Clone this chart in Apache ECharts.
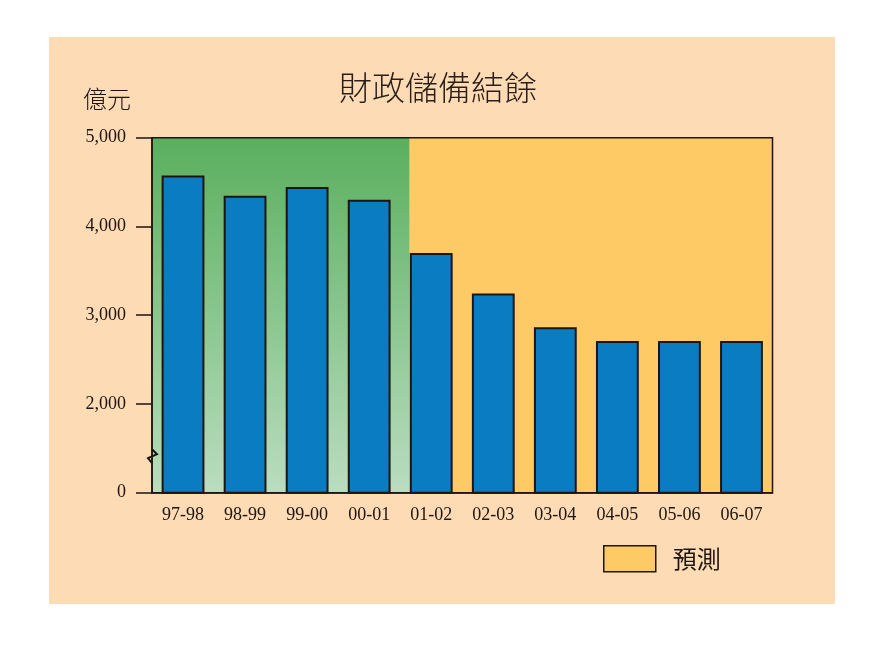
<!DOCTYPE html>
<html><head><meta charset="utf-8">
<script src="https://cdn.jsdelivr.net/npm/echarts@6/dist/echarts.min.js"></script>
<style>html,body{margin:0;padding:0;background:#fff}#c{width:886px;height:660px}</style>
</head><body><div id="c"></div>
<script>
var categories = ['97-98','98-99','99-00','00-01','01-02','02-03','03-04','04-05','05-06','06-07'];
var reserves = [4575, 4345, 4445, 4300, 3700, 3245, 2865, 2710, 2710, 2710];
var yTickValues = [1000, 2000, 3000, 4000, 5000];
var yTickLabels = ['0', '2,000', '3,000', '4,000', '5,000'];
var actualCount = 4;
var titleText = '財政儲備結餘';
var unitText = '億元';
var forecastName = '預測';

var chart = echarts.init(document.getElementById('c'));
var serif = '"Liberation Serif", "DejaVu Serif", serif';
var cjk = '"Noto Sans CJK TC", "Noto Sans CJK SC", sans-serif';
var ink = '#1e1410';

chart.setOption({
  animation: false,
  title: [
    {text: titleText, left: 339, top: 71, padding: 0, textStyle: {fontFamily: cjk, fontSize: 33, fontWeight: 300, color: '#2a1e18'}},
    {text: unitText, left: 83, top: 87, padding: 0, textStyle: {fontFamily: cjk, fontSize: 24, fontWeight: 300, color: ink}}
  ],
  legend: {
    left: 603, top: 545, padding: 0, itemWidth: 52, itemHeight: 26,
    data: [{name: forecastName, icon: 'rect', itemStyle: {color: '#FDCA66', borderColor: ink, borderWidth: 1.5}}],
    textStyle: {fontFamily: cjk, fontSize: 24, color: ink, padding: [0, 0, 0, 12]},
    selectedMode: false
  },
  grid: {left: 152, top: 137.7, right: 113.5, bottom: 167.3, show: true, borderColor: ink, borderWidth: 1.5, backgroundColor: 'transparent'},
  xAxis: {
    type: 'category', data: categories,
    axisLine: {lineStyle: {color: ink, width: 1.5}},
    axisTick: {show: false},
    axisLabel: {fontFamily: serif, fontSize: 18, color: ink, margin: 14}
  },
  yAxis: {
    type: 'value', min: 1000, max: 5000, interval: 1000,
    axisLine: {show: true, lineStyle: {color: ink, width: 1.5}},
    axisTick: {show: true, length: 16, lineStyle: {color: ink, width: 1.5}},
    splitLine: {show: false},
    axisLabel: {
      fontFamily: serif, fontSize: 18, color: ink, margin: 26,
      formatter: function (v) { var i = yTickValues.indexOf(v); return i >= 0 ? yTickLabels[i] : ''; }
    }
  },
  series: [
    {type: 'bar', data: reserves, barWidth: '69%', z: 3,
     itemStyle: {color: '#0A7DC2', borderColor: ink, borderWidth: 2}},
    {type: 'line', name: forecastName, data: []}
  ]
});

function px(cat, v) { return chart.convertToPixel({xAxisIndex: 0, yAxisIndex: 0}, [cat, v]); }
var p0 = px(categories[0], 5000), p1 = px(categories[1], 5000);
var band = p1[0] - p0[0];
var gx0 = p0[0] - band / 2;
var gxEnd = px(categories[categories.length - 1], 1000)[0] + band / 2;
var gyTop = p0[1];
var gyBot = px(categories[0], 1000)[1];
var greenEnd = px(categories[actualCount], 1000)[0] - band * 0.69 / 2 - 0.5;
var breakY = px(categories[0], 1400)[1];

chart.setOption({
  graphic: [
    {type: 'rect', z: -10, shape: {x: 49, y: 37, width: 786, height: 567}, style: {fill: '#FDDBB4'}},
    {type: 'rect', z: -5, shape: {x: gx0, y: gyTop, width: gxEnd - gx0, height: gyBot - gyTop}, style: {fill: '#FDCA66'}},
    {type: 'rect', z: -4, shape: {x: gx0, y: gyTop, width: greenEnd - gx0, height: gyBot - gyTop},
     style: {fill: new echarts.graphic.LinearGradient(0, 0, 0, 1, [
       {offset: 0, color: '#5AAF5E'}, {offset: 1, color: '#BADDC0'}])}},
    {type: 'polyline', z: 10, shape: {points: [[gx0, breakY - 8], [gx0 + 5, breakY - 3], [gx0 - 4, breakY + 1], [gx0, breakY + 6]]},
     style: {stroke: ink, lineWidth: 2, fill: null}}
  ]
});
</script></body></html>
